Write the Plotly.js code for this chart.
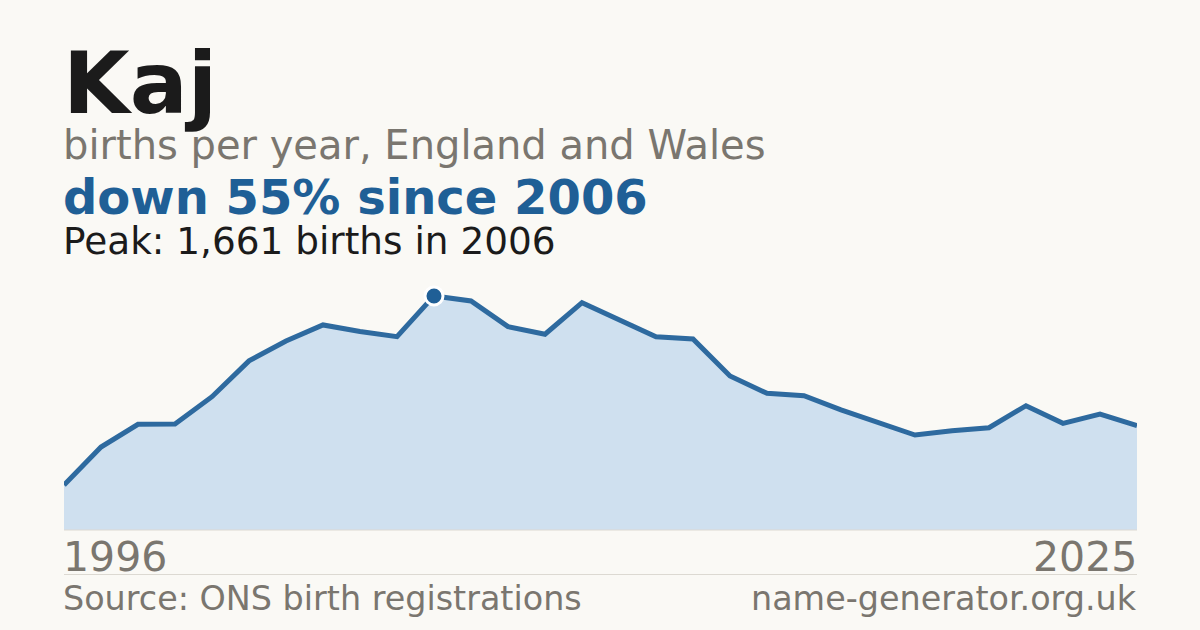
<!DOCTYPE html>
<html>
<head>
<meta charset="utf-8">
<script src="https://cdn.plot.ly/plotly-3.0.1.min.js"></script>
<style>
  html, body { margin: 0; padding: 0; background: #faf9f5; }
  #chart { width: 1200px; height: 630px; }
</style>
</head>
<body>
<div id="chart"></div>
<script>
const years = [1996,1997,1998,1999,2000,2001,2002,2003,2004,2005,2006,2007,2008,2009,2010,
               2011,2012,2013,2014,2015,2016,2017,2018,2019,2020,2021,2022,2023,2024,2025];
const births = [319,589,750,752,946,1200,1341,1455,1408,1372,1661,1625,1443,1389,1613,
                1491,1372,1356,1093,970,953,852,762,674,705,726,882,757,823,740];

const nameText = "Kaj";
const subtitleText = "births per year, England and Wales";
const sourceText = "Source: ONS birth registrations";
const siteText = "name-generator.org.uk";

const peakVal = Math.max(...births);
const peakIdx = births.indexOf(peakVal);
const peakYear = years[peakIdx];
const lastVal = births[births.length - 1];
const pct = Math.round((1 - lastVal / peakVal) * 100);
const changeText = "down " + pct + "% since " + peakYear;
const peakText = "Peak: " + peakVal.toLocaleString("en-GB") + " births in " + peakYear;

const W = 1200, H = 630;
const px = x => x / W;
const py = y => (H - y) / H;
const FONT = "DejaVu Sans, sans-serif";
const GREY = "#7a766f";

const traces = [
  {
    x: years, y: births, type: "scatter", mode: "lines",
    line: { color: "#2e6a9f", width: 5, shape: "linear" },
    fill: "tozeroy", fillcolor: "#cfe0ef",
    hoverinfo: "skip"
  },
  {
    x: [peakYear], y: [peakVal], type: "scatter", mode: "markers",
    marker: { color: "#1f5f96", size: 18, line: { color: "#ffffff", width: 3 } },
    hoverinfo: "skip"
  }
];

function ann(text, x, yc, size, color, bold, anchor) {
  return {
    text: bold ? "<b>" + text + "</b>" : text,
    xref: "paper", yref: "paper", x: px(x), y: py(yc),
    xanchor: anchor || "left", yanchor: "middle",
    showarrow: false, borderpad: 0, borderwidth: 0,
    font: { family: FONT, size: size, color: color }
  };
}

const layout = {
  width: W, height: H,
  paper_bgcolor: "#faf9f5", plot_bgcolor: "rgba(0,0,0,0)",
  margin: { l: 0, r: 0, t: 0, b: 0 },
  showlegend: false,
  xaxis: {
    domain: [px(64), px(1137)], range: [years[0], years[years.length - 1]],
    showgrid: false, zeroline: false, showticklabels: false, showline: false, fixedrange: true
  },
  yaxis: {
    domain: [py(530), py(270)], range: [0, 1845],
    showgrid: false, zeroline: false, showticklabels: false, showline: false, fixedrange: true
  },
  shapes: [
    { type: "line", xref: "paper", yref: "paper", x0: px(64), x1: px(1137), y0: py(530), y1: py(530),
      line: { color: "#dcd9d2", width: 1 }, layer: "above" },
    { type: "line", xref: "paper", yref: "paper", x0: px(64), x1: px(1137), y0: py(574.5), y1: py(574.5),
      line: { color: "#dcd9d2", width: 1 } }
  ],
  annotations: [
    ann(nameText, 63, 83, 86, "#1b1b1b", true),
    ann(subtitleText, 63, 145, 40, GREY, false),
    ann(changeText, 63, 196.5, 48, "#1f5f96", true),
    ann(peakText, 63, 241, 37.4, "#1b1b1b", false),
    ann(String(years[0]), 63, 556.5, 41, GREY, false),
    ann(String(years[years.length - 1]), 1137, 556.5, 41, GREY, false, "right"),
    ann(sourceText, 63, 598.5, 33.4, GREY, false),
    ann(siteText, 1137, 598.5, 33.4, GREY, false, "right")
  ]
};

Plotly.newPlot("chart", traces, layout, { displayModeBar: false, staticPlot: true });
</script>
</body>
</html>
